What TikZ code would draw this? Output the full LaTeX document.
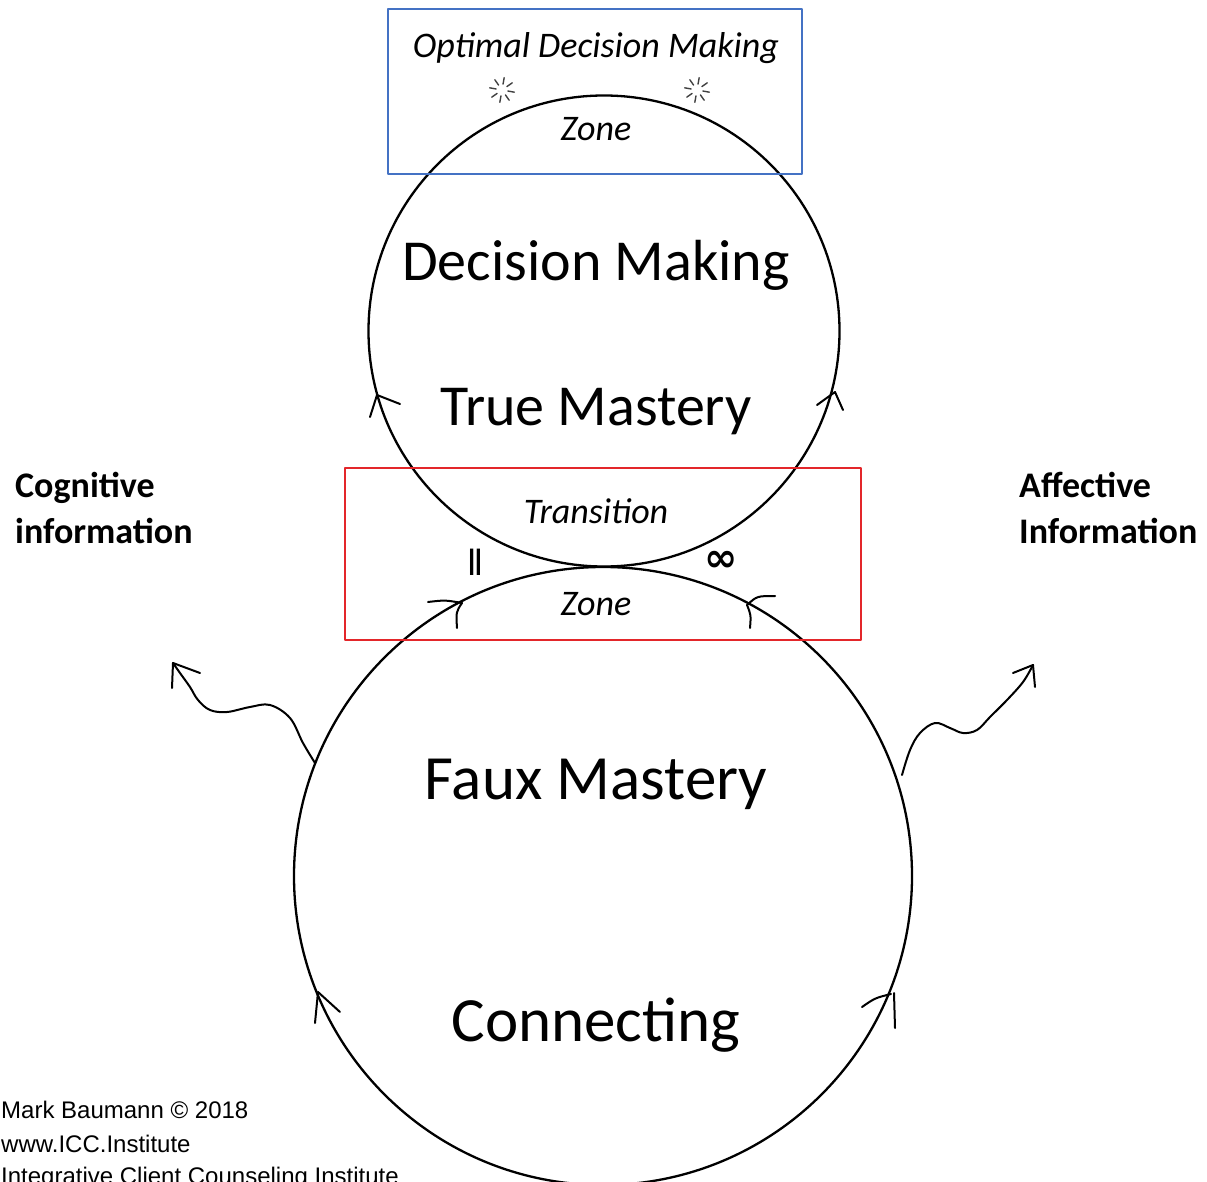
\documentclass[tikz,border=0pt]{standalone}
\usepackage{fontspec}
\setmainfont{Carlito}
\newfontfamily\notefont{Liberation Sans}
\newfontfamily\symfont{DejaVu Sans}
\definecolor{boxblue}{HTML}{4472C4}
\definecolor{boxred}{HTML}{E3262A}
\begin{document}
\begin{tikzpicture}[x=1pt,y=-1pt, line cap=round, line join=round,
  circ/.style={draw=black, line width=2.3pt, circle, inner sep=0pt},
  hand/.style={draw=black, line width=2pt},
  spark/.style={draw=black!75, line width=1.4pt},
  zonebox/.style={line width=1.8pt, inner sep=0pt},
  bigtxt/.style={font=\fontsize{58}{60}\selectfont, anchor=base},
  biggertxt/.style={font=\fontsize{63}{65}\selectfont, anchor=base},
  itxt/.style={font=\fontsize{36}{38}\selectfont\itshape, anchor=base},
  sidetxt/.style={font=\fontsize{36}{38}\selectfont\bfseries, anchor=base west, inner sep=0pt},
  notetxt/.style={font=\notefont\fontsize{24}{26}\selectfont, anchor=base west, inner sep=0pt}]
\useasboundingbox (0,0) rectangle (1207,1182);
\fill[white] (0,0) rectangle (1207,1182);

% circles
\node[circ, minimum size=471pt] (upper) at (604,331) {};
\node[circ, minimum size=618pt] (lower) at (603,876) {};

% zone boxes
\node[zonebox, draw=boxblue, minimum width=414pt, minimum height=165pt] (optbox) at (595,91.5) {};
\node[zonebox, draw=boxred, minimum width=516pt, minimum height=172pt] (transbox) at (603,554) {};

% texts
\node[itxt] (opt) at (596,58) {Optimal Decision Making};
\node[itxt] (zone1) at (596,141) {Zone};
\node[bigtxt] (dm) at (596,280) {Decision Making};
\node[bigtxt] (tm) at (596,425) {True Mastery};
\node[itxt] (trans) at (596,523) {Transition};
\node[itxt] (zone2) at (596,615) {Zone};
\node[biggertxt] (fm) at (596,799) {Faux Mastery};
\node[biggertxt] (conn) at (596,1041) {Connecting};

\node[sidetxt] (cog1) at (15,497) {Cognitive};
\node[sidetxt] (cog2) at (15,543) {information};
\node[sidetxt] (aff1) at (1019,497) {Affective};
\node[sidetxt] (aff2) at (1019,543) {Information};

\node[font=\fontsize{38}{38}\selectfont, anchor=base] (bars) at (475,575) {l\kern-2pt l};
\node[font=\symfont\bfseries\fontsize{40}{40}\selectfont, anchor=base] (inf) at (721,571) {∞};

\node[notetxt] (n1) at (1,1118) {Mark Baumann © 2018};
\node[notetxt] (n2) at (1,1152) {www.ICC.Institute};
\node[notetxt] (n3) at (1,1184) {Integrative Client Counseling Institute};

% sparkles
\foreach \c in {(502,90),(697,90)} {
  \foreach \a in {0,45,...,315} {
    \draw[spark] \c ++(\a+10:6) -- ++(\a+10:6.5);
  }
}

% chevrons on the upper circle
\draw[hand] (370,417) -- (377,395) -- (400,404);
\draw[hand] (817,405) -- (835,392) -- (843,410);
% chevrons in the transition zone
\draw[hand] (428,602) .. controls (445,600) .. (462,603);
\draw[hand] (462,603) .. controls (456,612) .. (457,628);
\draw[hand] (747,605) .. controls (757,596) .. (775,596);
\draw[hand] (747,605) .. controls (751,615) .. (750,628);
% chevrons on the lower circle
\draw[hand] (315,1023) -- (318,992) -- (340,1012);
\draw[hand] (862,1007) .. controls (875,998) .. (891,994);
\draw[hand] (894,993) -- (895,1028);

% wavy arrows
\coordinate (lstart) at (315,763);
\coordinate (ltip) at (173,663);
\coordinate (rstart) at (902,775);
\coordinate (rtip) at (1033,665);
\draw[hand] plot[smooth, tension=0.6] coordinates {(lstart) (303,743) (290,718) (270,705) (250,707) (227,712) (210,710) (198,700) (190,687) (180,673) (ltip)};
\draw[hand] (200,673) -- (ltip) -- (172,688);
\draw[hand] plot[smooth, tension=0.6] coordinates {(rstart) (910,750) (920,733) (935,723) (950,728) (963,733) (977,730) (990,717) (1007,700) (1023,682) (rtip)};
\draw[hand] (1013,673) -- (rtip) -- (1035,687);
\end{tikzpicture}
\end{document}
